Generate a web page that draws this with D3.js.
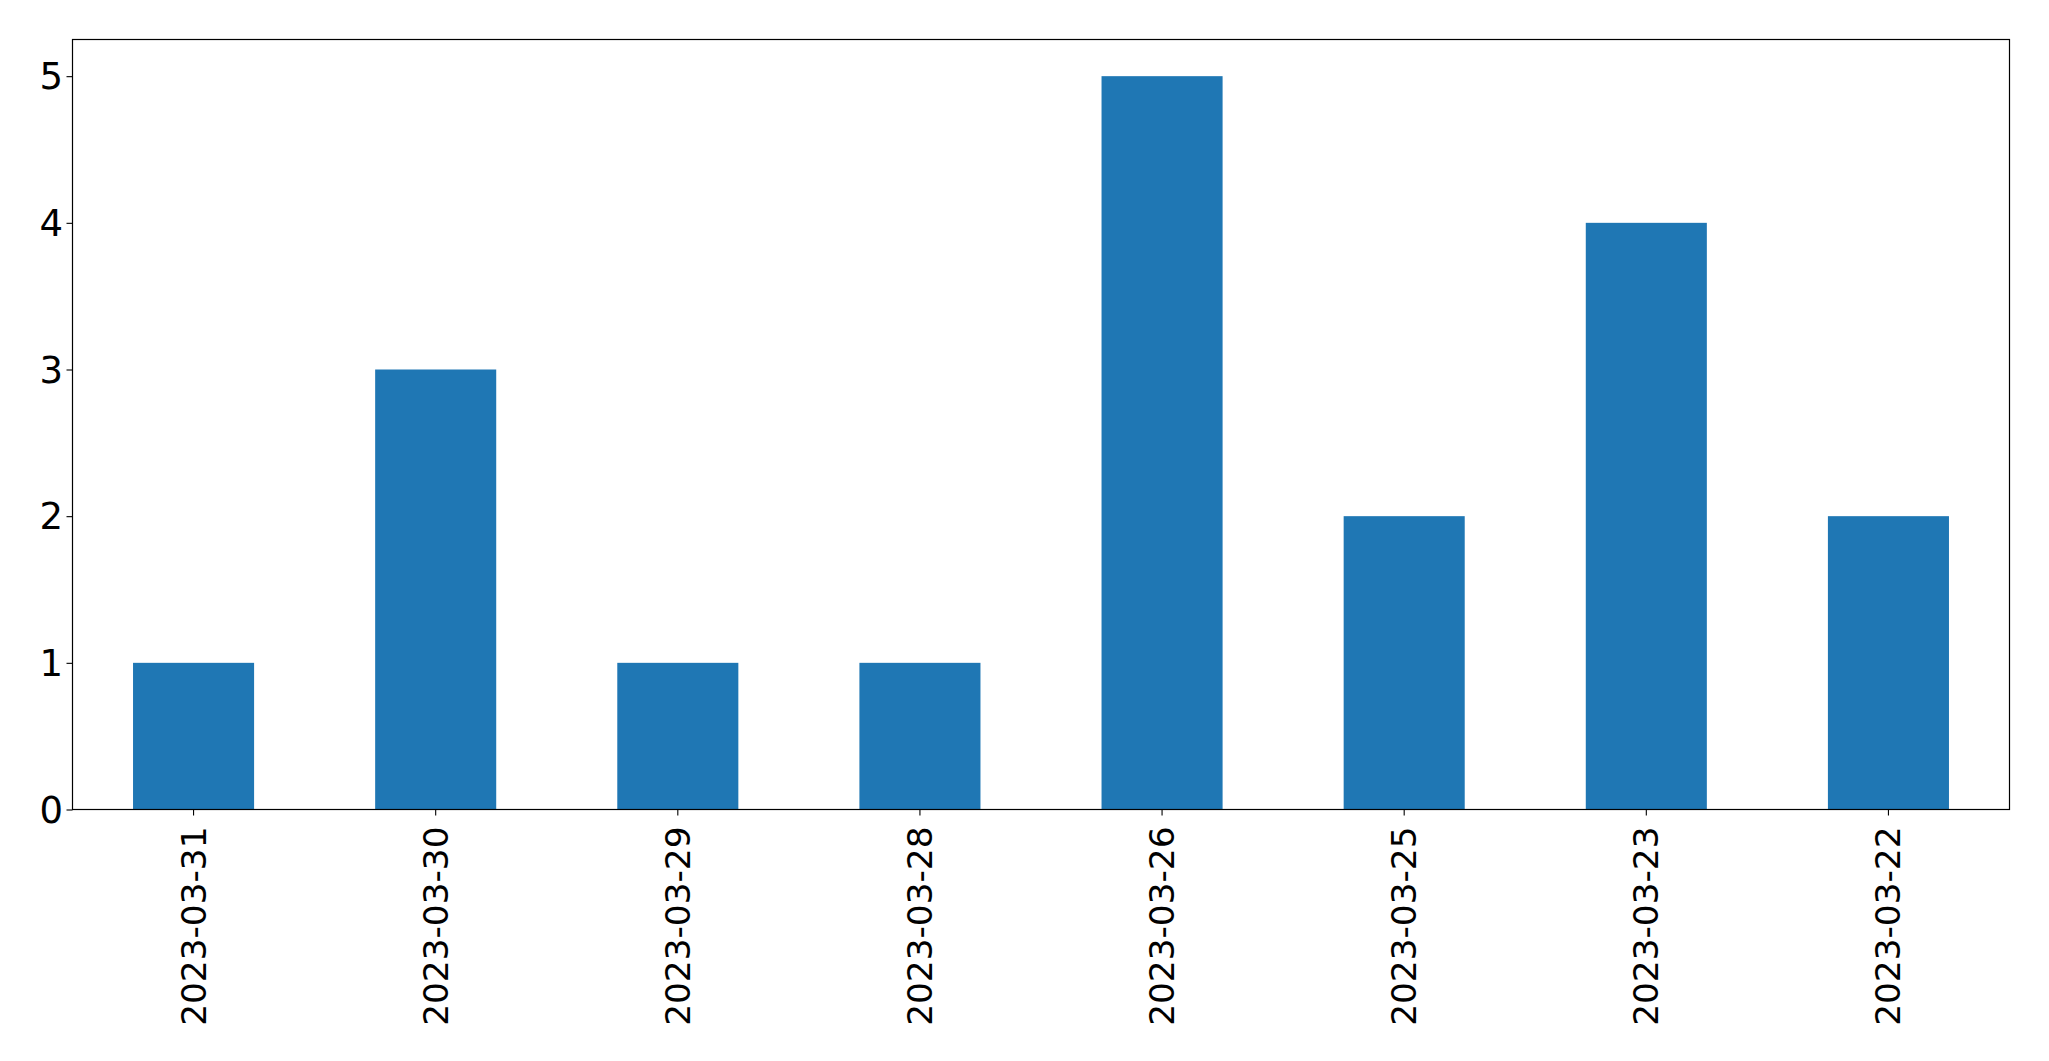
<!DOCTYPE html>
<html>
<head>
<meta charset="utf-8">
<script src="https://cdn.jsdelivr.net/npm/d3@7/dist/d3.min.js"></script>
<style>
  html, body { margin: 0; padding: 0; background: #ffffff; }
  svg { display: block; }
  text { font-family: "DejaVu Sans", sans-serif; }
</style>
</head>
<body>
<svg id="chart" width="2049" height="1061"></svg>
<script>
const categories = ["2023-03-31", "2023-03-30", "2023-03-29", "2023-03-28", "2023-03-26", "2023-03-25", "2023-03-23", "2023-03-22"];
const values = [1, 3, 1, 1, 5, 2, 4, 2];
const yTicks = [0, 1, 2, 3, 4, 5];

const W = 2049, H = 1061;
const margin = { left: 72.5, right: 2049 - 2009.5, top: 39.5, bottom: 1061 - 809.5 };
const svg = d3.select("#chart");

const x = d3.scaleBand()
  .domain(categories)
  .range([margin.left, W - margin.right])
  .paddingInner(0.5)
  .paddingOuter(0.25);

const y = d3.scaleLinear()
  .domain([0, 5.25])
  .range([H - margin.bottom, margin.top]);

svg.append("g")
  .selectAll("rect")
  .data(values)
  .join("rect")
  .attr("x", (d, i) => x(categories[i]))
  .attr("y", d => y(d))
  .attr("width", x.bandwidth())
  .attr("height", d => y(0) - y(d))
  .attr("fill", "#1f77b4");

const yFont = 37;
const xFont = 34.3;

const yAxis = svg.append("g")
  .attr("transform", `translate(${margin.left},0)`)
  .call(d3.axisLeft(y).tickValues(yTicks).tickFormat(d3.format("d")).tickSize(6).tickPadding(3.5));
yAxis.select(".domain").remove();
yAxis.selectAll("text").attr("font-size", yFont).attr("font-family", "DejaVu Sans").attr("fill", "#000").attr("dy", "0.34em");
yAxis.selectAll("line").attr("stroke", "#000").attr("stroke-width", 1.1);

const xAxis = svg.append("g")
  .attr("transform", `translate(0,${H - margin.bottom})`)
  .call(d3.axisBottom(x).tickSize(6).tickPadding(8));
xAxis.select(".domain").remove();
xAxis.selectAll("line").attr("stroke", "#000").attr("stroke-width", 1.1);
xAxis.selectAll("text")
  .attr("font-size", xFont)
  .attr("font-family", "DejaVu Sans")
  .attr("fill", "#000")
  .attr("transform", "rotate(-90)")
  .attr("text-anchor", "end")
  .attr("dy", "0.35em")
  .attr("x", -17)
  .attr("y", 0);

svg.append("rect")
  .attr("x", margin.left)
  .attr("y", margin.top)
  .attr("width", W - margin.left - margin.right)
  .attr("height", H - margin.top - margin.bottom)
  .attr("fill", "none")
  .attr("stroke", "#000")
  .attr("stroke-width", 1.2);
</script>
</body>
</html>
